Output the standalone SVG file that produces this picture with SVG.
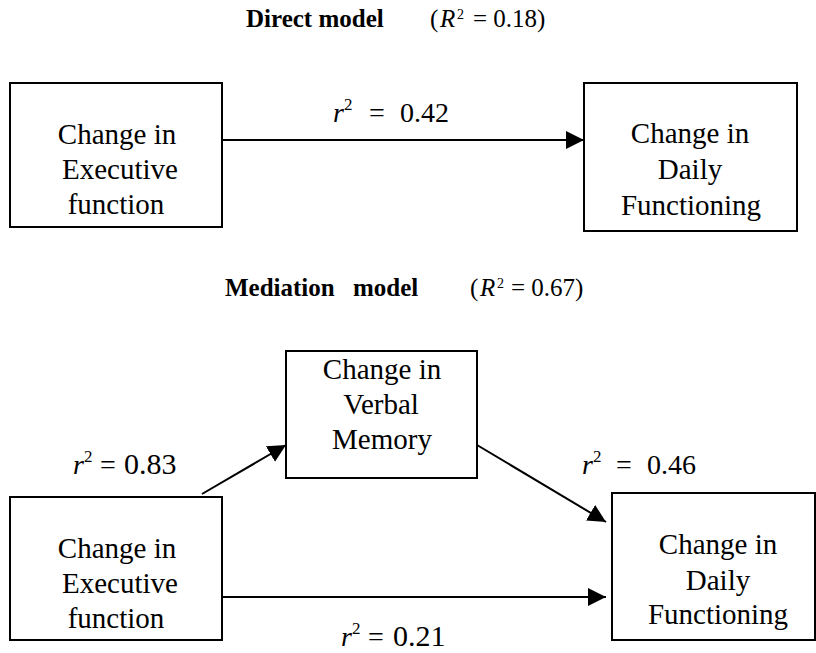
<svg xmlns="http://www.w3.org/2000/svg" width="816" height="653" viewBox="0 0 816 653">
<style>
text{font-family:"Liberation Serif","DejaVu Serif",serif;fill:#000}
.t{font-size:29px;text-anchor:middle}
.lab{font-size:28px}
.lab2{font-size:30px}
.sup{font-size:17px}
.it{font-style:italic}
.h{font-size:25px;font-weight:bold}
.hp{font-size:25px}
.hs{font-size:14px}
.box{fill:#fff;stroke:#000;stroke-width:2}
.c{stroke:#000;stroke-width:2;fill:none;marker-end:url(#ah)}
</style>
<defs>
<marker id="ah" viewBox="0 0 10 10" refX="10" refY="5" markerWidth="9" markerHeight="9" orient="auto">
<path d="M0,0 L10,5 L0,10 z" fill="#000"/>
</marker>
</defs>

<g id="title-direct">
<text class="h" x="246" y="27">Direct model</text>
<text class="hp" x="430" y="27">(</text>
<text class="hp it" x="440" y="27">R</text>
<text class="hs" x="457" y="19">2</text>
<text class="hp" x="473" y="27">= 0.18)</text>
</g>
<g id="title-mediation">
<text class="h" x="225" y="296" word-spacing="12">Mediation model</text>
<text class="hp" x="470" y="296">(</text>
<text class="hp it" x="480" y="296">R</text>
<text class="hs" x="497" y="288">2</text>
<text class="hp" x="511" y="296">= 0.67)</text>
</g>

<g id="connectors">
<line class="c" x1="222" y1="140" x2="584" y2="140"/>
<line class="c" x1="202" y1="494" x2="286" y2="445"/>
<line class="c" x1="477" y1="445" x2="606" y2="522"/>
<line class="c" x1="222" y1="597" x2="606" y2="597"/>
</g>

<g id="labels">
<g id="lab-042"><text class="lab it" x="333" y="122">r</text><text class="sup" x="344" y="110">2</text><text class="lab" x="369" y="122">=</text><text class="lab" x="400" y="122">0.42</text></g>
<g id="lab-083"><text class="lab it" x="73" y="474">r</text><text class="sup" x="84" y="462">2</text><text class="lab" x="100" y="474">=</text><text class="lab2" x="124" y="474">0.83</text></g>
<g id="lab-046"><text class="lab it" x="582" y="474">r</text><text class="sup" x="593" y="462">2</text><text class="lab" x="616" y="474">=</text><text class="lab" x="647" y="474">0.46</text></g>
<g id="lab-021"><text class="lab it" x="341" y="646">r</text><text class="sup" x="352" y="634">2</text><text class="lab" x="368" y="646">=</text><text class="lab2" x="393" y="646">0.21</text></g>
</g>

<g id="n-exec-top">
<rect class="box" x="10" y="83" width="212" height="144"/>
<text class="t" x="117" y="144">Change in</text>
<text class="t" x="120" y="179">Executive</text>
<text class="t" x="116" y="214">function</text>
</g>
<g id="n-daily-top">
<rect class="box" x="584" y="83" width="213" height="148"/>
<text class="t" x="690" y="143">Change in</text>
<text class="t" x="690" y="179">Daily</text>
<text class="t" x="691" y="215">Functioning</text>
</g>
<g id="n-verbal">
<rect class="box" x="286" y="351" width="191" height="127"/>
<text class="t" x="382" y="379">Change in</text>
<text class="t" x="381" y="414">Verbal</text>
<text class="t" x="382" y="449">Memory</text>
</g>
<g id="n-exec-bot">
<rect class="box" x="10" y="497" width="212" height="143"/>
<text class="t" x="117" y="558">Change in</text>
<text class="t" x="120" y="593">Executive</text>
<text class="t" x="116" y="628">function</text>
</g>
<g id="n-daily-bot">
<rect class="box" x="612" y="493" width="203" height="147"/>
<text class="t" x="718" y="554">Change in</text>
<text class="t" x="718" y="590">Daily</text>
<text class="t" x="718" y="624">Functioning</text>
</g>
</svg>
